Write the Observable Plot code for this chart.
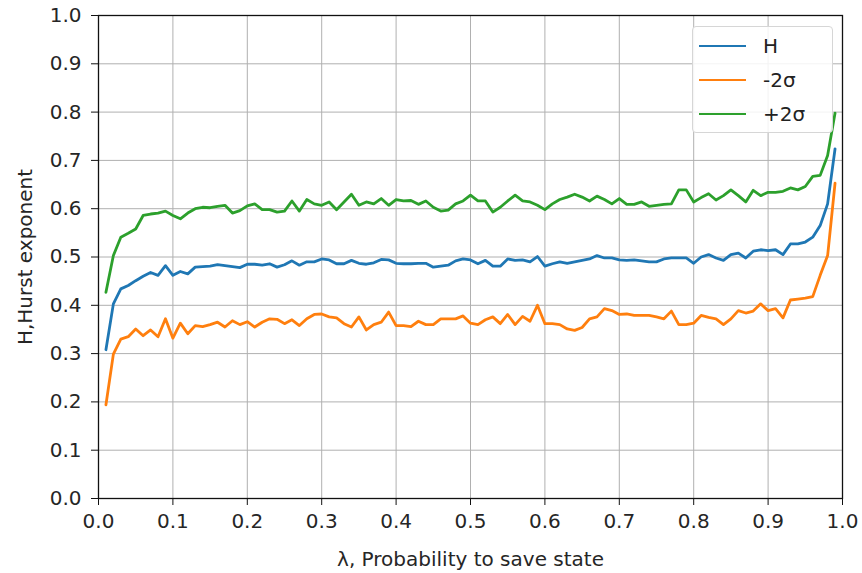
<!DOCTYPE html>
<html>
<head>
<meta charset="utf-8">
<script src="https://cdn.jsdelivr.net/npm/d3@7"></script>
<script src="https://cdn.jsdelivr.net/npm/@observablehq/plot@0.6"></script>
<style>
  body { margin: 0; background: #fff; }
  #wrap { position: relative; width: 862px; height: 573px; font-family: "DejaVu Sans", sans-serif; }
  .legend { position: absolute; left: 692px; top: 26px; width: 141px; height: 107px;
            border: 1px solid #d6d6d6; border-radius: 4px; background: rgba(255,255,255,0.85);
            box-sizing: border-box; }
  .item { position: absolute; left: 6px; height: 24px; display: flex; align-items: center; }
  .swatch { width: 47px; height: 0; border-top: 2.8px solid; margin-right: 17px; }
  .lab { font-size: 20px; color: #222; line-height: 24px; }
</style>
</head>
<body>
<div id="wrap"></div>
<script>
const lambda = [0.01,0.02,0.03,0.04,0.05,0.06,0.07,0.08,0.09,0.10,
0.11,0.12,0.13,0.14,0.15,0.16,0.17,0.18,0.19,0.20,
0.21,0.22,0.23,0.24,0.25,0.26,0.27,0.28,0.29,0.30,
0.31,0.32,0.33,0.34,0.35,0.36,0.37,0.38,0.39,0.40,
0.41,0.42,0.43,0.44,0.45,0.46,0.47,0.48,0.49,0.50,
0.51,0.52,0.53,0.54,0.55,0.56,0.57,0.58,0.59,0.60,
0.61,0.62,0.63,0.64,0.65,0.66,0.67,0.68,0.69,0.70,
0.71,0.72,0.73,0.74,0.75,0.76,0.77,0.78,0.79,0.80,
0.81,0.82,0.83,0.84,0.85,0.86,0.87,0.88,0.89,0.90,
0.91,0.92,0.93,0.94,0.95,0.96,0.97,0.98,0.99];

const hurst = [0.308,0.403,0.434,0.441,0.451,0.460,0.468,0.462,0.482,0.462,
0.470,0.465,0.479,0.480,0.481,0.484,0.482,0.480,0.478,0.485,
0.485,0.483,0.486,0.479,0.484,0.492,0.483,0.490,0.490,0.496,
0.494,0.486,0.486,0.493,0.487,0.485,0.488,0.495,0.494,0.487,
0.486,0.486,0.487,0.487,0.479,0.481,0.483,0.492,0.496,0.494,
0.486,0.493,0.481,0.481,0.496,0.493,0.494,0.490,0.501,0.481,
0.486,0.490,0.487,0.490,0.493,0.496,0.503,0.498,0.498,0.494,
0.493,0.494,0.492,0.490,0.490,0.496,0.498,0.498,0.498,0.487,
0.500,0.505,0.498,0.493,0.505,0.508,0.498,0.512,0.515,0.513,
0.515,0.505,0.527,0.527,0.531,0.541,0.565,0.610,0.724];

const minus2sigma = [0.194,0.299,0.330,0.335,0.351,0.337,0.349,0.335,0.372,0.332,
0.363,0.341,0.358,0.356,0.360,0.365,0.355,0.368,0.360,0.366,
0.355,0.365,0.372,0.371,0.362,0.370,0.358,0.372,0.381,0.382,
0.376,0.374,0.362,0.355,0.376,0.349,0.360,0.365,0.386,0.358,
0.358,0.356,0.367,0.360,0.360,0.372,0.372,0.372,0.378,0.363,
0.360,0.370,0.376,0.362,0.381,0.360,0.377,0.367,0.400,0.362,
0.362,0.360,0.351,0.348,0.354,0.372,0.376,0.393,0.389,0.381,
0.382,0.379,0.379,0.379,0.376,0.372,0.388,0.360,0.360,0.363,
0.379,0.375,0.372,0.360,0.372,0.389,0.384,0.388,0.403,0.389,
0.393,0.374,0.411,0.413,0.415,0.418,0.462,0.503,0.653];

const plus2sigma = [0.427,0.503,0.541,0.549,0.558,0.586,0.589,0.591,0.595,0.586,
0.579,0.591,0.600,0.603,0.602,0.605,0.607,0.591,0.596,0.606,
0.610,0.598,0.598,0.593,0.595,0.616,0.595,0.619,0.610,0.607,
0.614,0.598,0.614,0.630,0.607,0.614,0.610,0.621,0.607,0.619,
0.616,0.617,0.609,0.616,0.603,0.595,0.597,0.610,0.616,0.628,
0.616,0.616,0.593,0.603,0.616,0.628,0.616,0.614,0.607,0.598,
0.610,0.619,0.624,0.630,0.624,0.616,0.626,0.619,0.610,0.621,
0.609,0.609,0.614,0.605,0.607,0.609,0.610,0.639,0.639,0.614,
0.623,0.631,0.618,0.627,0.639,0.627,0.614,0.638,0.627,0.634,
0.634,0.636,0.643,0.639,0.646,0.667,0.669,0.710,0.798];

const seriesNames = ["H", "-2σ", "+2σ"];
const seriesColors = ["#1f77b4", "#ff7f0e", "#2ca02c"];
const xTicks = [0.0,0.1,0.2,0.3,0.4,0.5,0.6,0.7,0.8,0.9,1.0];
const yTicks = [0.0,0.1,0.2,0.3,0.4,0.5,0.6,0.7,0.8,0.9,1.0];
const xLabel = "λ, Probability to save state";
const yLabel = "H,Hurst exponent";

const seriesValues = [hurst, minus2sigma, plus2sigma];
const rows = [];
seriesNames.forEach((name, s) => {
  lambda.forEach((x, i) => rows.push({series: name, x, y: seriesValues[s][i]}));
});

const chart = Plot.plot({
  width: 862,
  height: 573,
  marginLeft: 98,
  marginRight: 20,
  marginTop: 15,
  marginBottom: 75,
  style: {fontFamily: "DejaVu Sans, sans-serif", fontSize: "20px", color: "#262626", background: "#fff"},
  x: {domain: [0, 1]},
  y: {domain: [0, 1]},
  color: {domain: seriesNames, range: seriesColors},
  marks: [
    Plot.gridX(xTicks, {stroke: "#b0b0b0", strokeOpacity: 1, strokeWidth: 1}),
    Plot.gridY(yTicks, {stroke: "#b0b0b0", strokeOpacity: 1, strokeWidth: 1}),
    Plot.line(rows, {x: "x", y: "y", z: "series", stroke: "series", strokeWidth: 2.8}),
    Plot.frame({stroke: "#111", strokeWidth: 1.3}),
    Plot.axisX({ticks: xTicks, tickFormat: d3.format(".1f"), tickSize: 7, tickPadding: 8,
                label: xLabel, labelAnchor: "center", labelArrow: "none", labelOffset: 67,
                fontSize: 20, stroke: "#111"}),
    Plot.axisY({ticks: yTicks, tickFormat: d3.format(".1f"), tickSize: 7, tickPadding: 10,
                label: yLabel, labelAnchor: "center", labelArrow: "none", labelOffset: 81,
                fontSize: 20, stroke: "#111"})
  ]
});

const wrap = document.getElementById("wrap");
wrap.appendChild(chart);

const legend = document.createElement("div");
legend.className = "legend";
const rowTops = [7, 41, 75];
seriesNames.forEach((name, i) => {
  const item = document.createElement("div");
  item.className = "item";
  item.style.top = rowTops[i] + "px";
  const sw = document.createElement("div");
  sw.className = "swatch";
  sw.style.borderTopColor = seriesColors[i];
  const lab = document.createElement("span");
  lab.className = "lab";
  lab.textContent = name;
  item.appendChild(sw);
  item.appendChild(lab);
  legend.appendChild(item);
});
wrap.appendChild(legend);
</script>
</body>
</html>
